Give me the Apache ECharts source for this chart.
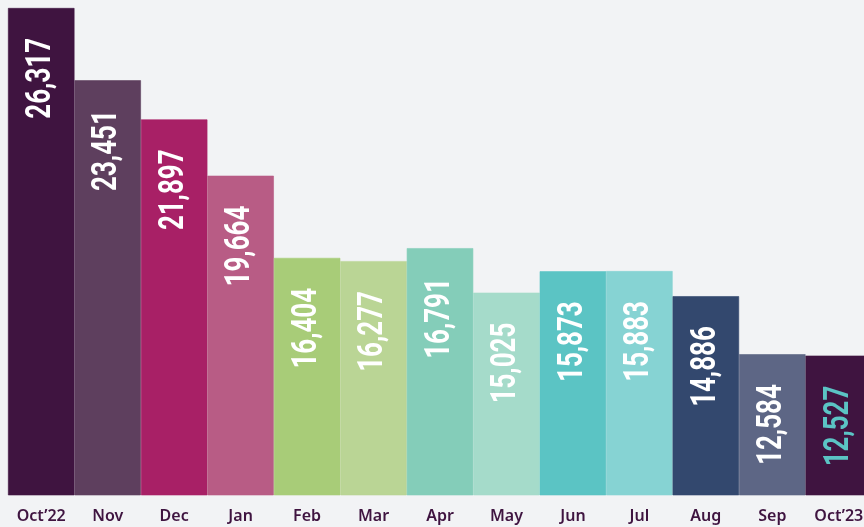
<!DOCTYPE html>
<html>
<head>
<meta charset="utf-8">
<script src="https://cdn.jsdelivr.net/npm/echarts@6/dist/echarts.min.js"></script>
<style>
  html, body { margin: 0; padding: 0; background: #f2f3f5; overflow: hidden; }
  #chart { width: 872px; height: 527px; }
</style>
</head>
<body>
<div id="chart"></div>
<script>
  // 月份
  const months = ['Oct’22', 'Nov', 'Dec', 'Jan', 'Feb', 'Mar', 'Apr', 'May', 'Jun', 'Jul', 'Aug', 'Sep', 'Oct’23']
  // 数值
  const values = [26317, 23451, 21897, 19664, 16404, 16277, 16791, 15025, 15873, 15883, 14886, 12584, 12527]
  const colorlist = [
    '#3f1440', '#5e3f5e', '#a82066', '#b85c85', '#a8cc78', '#bad595', '#84cdb9',
    '#a5dbca', '#5bc4c4', '#86d3d3', '#33486e', '#5d6685', '#3f1440'
  ]
  const labelColors = values.map((v, i) => (i === values.length - 1 ? '#5bc4c4' : '#ffffff'))

  var myChart = echarts.init(document.getElementById('chart'))
  let option = {
    backgroundColor: '#f2f3f5',
    animation: false,
    grid: { left: 8, right: 0, top: 8, bottom: 32 },
    xAxis: {
      type: 'category',
      data: months,
      axisLine: { show: false },
      axisTick: { show: false },
      axisLabel: {
        color: '#3f1440',
        fontFamily: 'Noto Sans',
        fontWeight: 600,
        fontSize: 16,
        margin: 13
      }
    },
    yAxis: {
      type: 'value',
      min: 7000,
      max: 26317,
      show: false,
      splitLine: { show: false }
    },
    series: [
      {
        type: 'bar',
        barCategoryGap: 0,
        data: values.map((v, i) => ({
          value: v,
          // 描边同色，盖住柱子之间的缝
          itemStyle: { color: colorlist[i], borderColor: colorlist[i], borderWidth: 0.6 }
        }))
      },
      {
        // 竖排数字标签（压窄字体）
        type: 'custom',
        silent: true,
        z: 5,
        data: values.map((v, i) => [i, v]),
        renderItem: function (params, api) {
          const pt = api.coord([api.value(0), api.value(1)])
          return {
            type: 'text',
            x: pt[0],
            y: pt[1] + 30,
            rotation: Math.PI / 2,
            scaleX: 0.74,
            style: {
              text: api.value(1).toLocaleString('en-US'),
              fill: labelColors[params.dataIndex],
              font: 'bold 35px Roboto',
              align: 'right',
              verticalAlign: 'middle'
            }
          }
        }
      }
    ]
  }
  myChart.setOption(option)
</script>
</body>
</html>
